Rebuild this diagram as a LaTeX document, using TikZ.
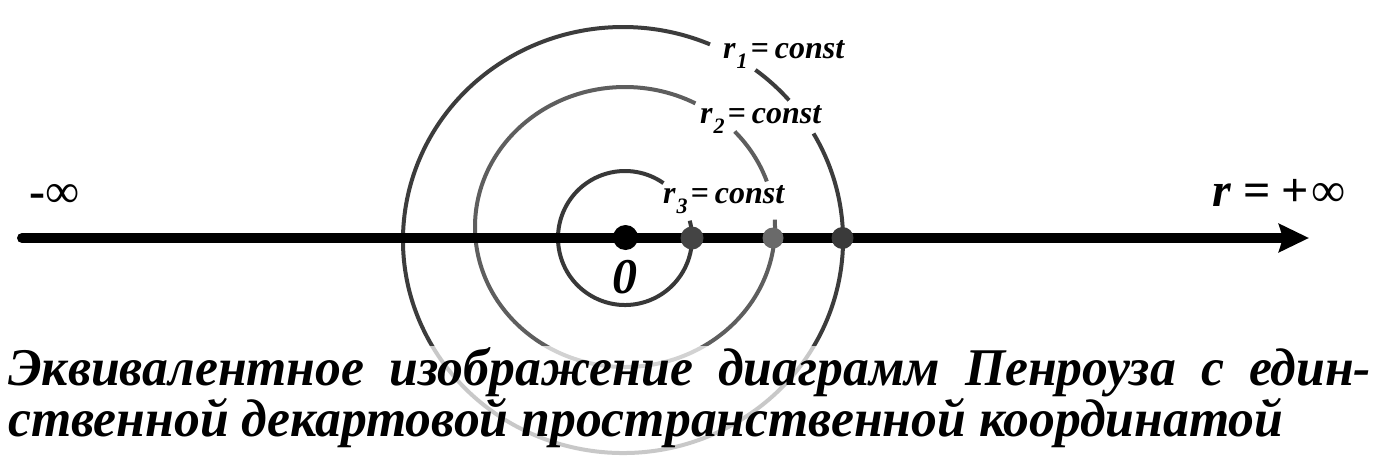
\documentclass[tikz,border=0pt]{standalone}
\usepackage{fontspec}
\setmainfont{Liberation Serif}
\usepackage{graphicx}
\usetikzlibrary{arrows.meta}
\definecolor{outerc}{HTML}{3C3C3C}
\definecolor{midc}{HTML}{5E5E5E}
\definecolor{innerc}{HTML}{383838}
\definecolor{dotA}{HTML}{444444}
\definecolor{dotB}{HTML}{6A6A6A}
\definecolor{dotC}{HTML}{3A3A3A}
\newsavebox\linetwobox
\newcommand\TitleFont{\fontsize{53}{60}\selectfont\bfseries\itshape}
\newcommand\LabFont{\fontsize{32}{38}\selectfont\bfseries\itshape}
\newcommand\rlab[1]{r\kern1pt\raisebox{-10pt}{\fontsize{22}{22}\selectfont #1}\kern3pt{=}\kern6pt const}
\begin{document}
\sbox\linetwobox{\TitleFont ственной декартовой пространственной координатой}%
\pgfmathsetmacro\sx{1275/\the\wd\linetwobox}%
\pgfmathsetmacro\wone{1363/\sx}%
\begin{tikzpicture}[x=1pt,y=-1pt,
  ring/.style={line width=4pt},
  dotnode/.style={circle,inner sep=0pt,minimum size=#1},
  lab/.style={anchor=base west,inner sep=0pt,font=\LabFont},
  txt/.style={anchor=base west,inner sep=0pt}]
\useasboundingbox (0,0) rectangle (1380,463);
\fill[white] (0,0) rectangle (1380,463);
% outer ring r1
\draw[ring,outerc] (623,240) ++(-30:220 and 213) arc[start angle=-30,end angle=293.3,x radius=220,y radius=213];
\draw[ring,outerc] (623,240) ++(-53:220 and 213) arc[start angle=-53,end angle=-41,x radius=220,y radius=213];
% middle ring r2
\draw[ring,midc] (625,227) ++(-3:150 and 140) arc[start angle=-3,end angle=298,x radius=150,y radius=140];
\draw[ring,midc] (625,227) ++(-43:150 and 140) arc[start angle=-43,end angle=-19,x radius=150,y radius=140];
% inner ring r3
\draw[ring,innerc] (625,238) ++(-15:67 and 67) arc[start angle=-15,end angle=305,x radius=67,y radius=67];
% axis
\coordinate (axL) at (22,238);
\coordinate (axR) at (1309,238);
\draw[line width=10pt,line cap=round,-{Stealth[length=30pt,width=28pt,inset=4pt]}] (axL) -- (axR);
% dots
\node[dotnode=25pt,fill=black] (o) at (625.5,237.5) {};
\node[dotnode=23pt,fill=dotA] (d3) at (692,238) {};
\node[dotnode=21pt,fill=dotB] (d2) at (773,238) {};
\node[dotnode=22pt,fill=dotC] (d1) at (842.5,238) {};
% labels
\node[lab] (l1) at (723,58) {\rlab{1}};
\node[lab] (l2) at (700,123) {\rlab{2}};
\node[lab] (l3) at (663,203) {\rlab{3}};
\node[anchor=base,inner sep=0pt,font=\fontsize{50}{60}\selectfont\bfseries\itshape] (zero) at (625,293) {0};
\node[txt,font=\fontsize{48}{52}\selectfont] (minf) at (29,207) {{\bfseries -}∞};
\node[txt,font=\fontsize{48}{52}\selectfont] (pinf) at (1212,206) {{\bfseries\itshape r}\kern13pt{\bfseries =}\kern10pt{\bfseries +}\kern3pt∞};
% veil over lower part
\fill[white,fill opacity=0.72] (0,346) rectangle (1380,463);
% title
\node[txt] (title1) at (8,385) {\scalebox{\sx}[1]{\makebox[\wone pt][s]{\TitleFont Эквивалентное изображение диаграмм Пенроуза с един-}}};
\node[txt] (title2) at (8,436) {\scalebox{\sx}[1]{\TitleFont ственной декартовой пространственной координатой}};
\end{tikzpicture}
\end{document}
